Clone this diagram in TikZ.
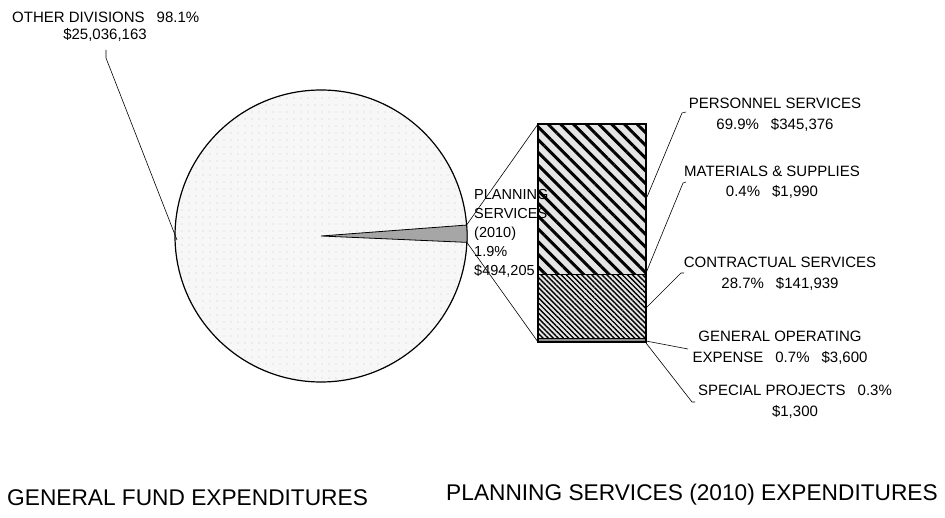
\documentclass[tikz,border=0pt]{standalone}
\usepackage{fontspec}
\setmainfont{Liberation Sans}
\usetikzlibrary{patterns.meta}
\begin{document}
\begin{tikzpicture}[x=1pt,y=1pt,
  lbl/.style={font=\fontsize{15}{20.5}\selectfont, inner sep=0pt, align=center},
  ttl/.style={font=\fontsize{22.7}{24}\selectfont, inner sep=0pt},
  leader/.style={draw, line width=0.6pt},
  edge/.style={line width=1.2pt}]
\useasboundingbox (0,0) rectangle (945,-518);
% pie
\coordinate (pc) at (321,-236);
\fill[black!3] (pc) circle (146);
\fill[pattern={Dots[distance=7pt, radius=0.45pt]}, pattern color=black!55] (pc) circle (146);
\draw[edge] (pc) circle (146);
\path (pc) ++(4.3:146) coordinate (wt);
\path (pc) ++(-2.5:146) coordinate (wb);
\fill[black!35] (pc) -- (wt) arc (4.3:-2.5:146) -- cycle;
\draw[line width=0.8pt] (pc) -- (wt) arc (4.3:-2.5:146) -- cycle;
% bar
\coordinate (btl) at (538,-124);
\coordinate (bbl) at (538,-342);
\fill[black!10] (538,-124) rectangle (646,-274);
\fill[pattern={Lines[angle=-45, distance=9pt, line width=3pt]}, pattern color=black] (538,-124) rectangle (646,-274);
\fill[black!10] (538,-275) rectangle (646,-338);
\fill[pattern={Lines[angle=-45, distance=3.6pt, line width=1.4pt]}, pattern color=black] (538,-275) rectangle (646,-338);
\fill[black!45] (538,-338) rectangle (646,-342);
\draw[edge] (538,-124) rectangle (646,-342);
\draw[line width=1.6pt] (538,-274.5) -- (646,-274.5);
\draw[line width=0.8pt] (538,-338) -- (646,-338);
\draw[line width=0.6pt] (538,-341) -- (646,-341);
% connectors pie -> bar
\draw[leader] (wt) -- (btl);
\draw[leader] (wb) -- (bbl);
% labels
\node[lbl, anchor=west] (od1) at (12,-17) {OTHER DIVISIONS\hspace{0.8em}98.1\%};
\node[lbl] (od2) at (105,-35) {\$25,036,163};
\node[lbl, anchor=west, align=left, font=\fontsize{14.5}{19}\selectfont] (plan) at (474,-233.5) {PLANNING\\SERVICES\\(2010)\\1.9\%\\\$494,205};
\node[lbl] (pers) at (775,-114.5) {PERSONNEL SERVICES\\69.9\%\hspace{0.8em}\$345,376};
\node[lbl] (mat) at (772,-182) {MATERIALS \& SUPPLIES\\0.4\%\hspace{0.8em}\$1,990};
\node[lbl] (con) at (780,-273.5) {CONTRACTUAL SERVICES\\28.7\%\hspace{0.8em}\$141,939};
\node[lbl] (gen) at (780,-347.5) {GENERAL OPERATING\\EXPENSE\hspace{0.8em}0.7\%\hspace{0.8em}\$3,600};
\node[lbl] (spe) at (795,-401.5) {SPECIAL PROJECTS\hspace{0.8em}0.3\%\\\$1,300};
\node[ttl, anchor=west] (t1) at (7,-497.5) {GENERAL FUND EXPENDITURES};
\node[ttl, anchor=east] (t2) at (938,-495) {PLANNING SERVICES (2010) EXPENDITURES};
% leaders
\coordinate (odA) at (177,-240);
\coordinate (odB) at (106,-58);
\coordinate (odC) at (106,-50);
\draw[leader] (odA) -- (odB) -- (odC);
\coordinate (p1) at (647,-197); \coordinate (p2) at (682,-113); \coordinate (p3) at (686,-112);
\draw[leader] (p1) -- (p2) -- (p3);
\coordinate (m1) at (646,-273); \coordinate (m2) at (683,-183); \coordinate (m3) at (686,-182);
\draw[leader] (m1) -- (m2) -- (m3);
\coordinate (c1) at (646,-308); \coordinate (c2) at (681,-273); \coordinate (c3) at (684,-273);
\draw[leader] (c1) -- (c2) -- (c3);
\coordinate (g1) at (646,-341); \coordinate (g2) at (688,-349);
\draw[leader] (g1) -- (g2);
\coordinate (s1) at (646,-343); \coordinate (s2) at (692,-402); \coordinate (s3) at (695,-402);
\draw[leader] (s1) -- (s2) -- (s3);
\end{tikzpicture}
\end{document}
